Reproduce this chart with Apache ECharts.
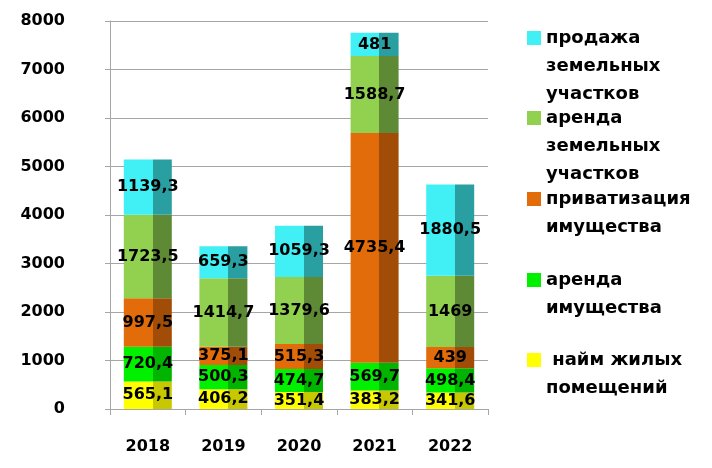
<!DOCTYPE html>
<html>
<head>
<meta charset="utf-8">
<script src="https://cdn.jsdelivr.net/npm/echarts@6/dist/echarts.min.js"></script>
<style>
  html, body { margin: 0; padding: 0; background: #fff; }
  #chart { width: 712px; height: 468px; }
</style>
</head>
<body>
<div id="chart"></div>
<script>
var years = ['2018', '2019', '2020', '2021', '2022']
var najm = [565.1, 406.2, 351.4, 383.2, 341.6]
var arendaIm = [720.4, 500.3, 474.7, 569.7, 498.4]
var privat = [997.5, 375.1, 515.3, 4735.4, 439]
var arendaZem = [1723.5, 1414.7, 1379.6, 1588.7, 1469]
var prodazha = [1139.3, 659.3, 1059.3, 481, 1880.5]
var yTicks = [0, 1000, 2000, 3000, 4000, 5000, 6000, 7000, 8000]

var names = ['найм жилых помещений', 'аренда имущества', 'приватизация имущества', 'аренда земельных участков', 'продажа земельных участков']
var legendText = {
  'продажа земельных участков': 'продажа\nземельных\nучастков',
  'аренда земельных участков': 'аренда\nземельных\nучастков',
  'приватизация имущества': 'приватизация\nимущества',
  'аренда имущества': 'аренда\nимущества',
  'найм жилых помещений': ' найм жилых\nпомещений'
}

var font = 'DejaVu Sans'
var faces = [
  ['#FFFF00', '#C8C800'],
  ['#00F000', '#00B400'],
  ['#E36C0A', '#A24D07'],
  ['#92D050', '#5F8A35'],
  ['#40F0F5', '#2A9FA2']
]

function face(c) {
  return {
    type: 'linear', x: 0, y: 0, x2: 1, y2: 0,
    colorStops: [
      { offset: 0, color: c[0] },
      { offset: 0.6, color: c[0] },
      { offset: 0.6, color: c[1] },
      { offset: 1, color: c[1] }
    ]
  }
}

var myChart = echarts.init(document.getElementById('chart'))

var seriesData = [najm, arendaIm, privat, arendaZem, prodazha]
var series = seriesData.map(function (d, i) {
  return {
    name: names[i],
    type: 'bar',
    stack: 'total',
    barWidth: 48,
    data: d,
    itemStyle: { color: face(faces[i]) },
    label: {
      show: true,
      position: 'inside',
      color: '#000',
      fontFamily: font,
      fontWeight: 'bold',
      fontSize: 16,
      formatter: function (p) { return String(p.value).replace('.', ',') }
    }
  }
})

// legend: one per item, blank lines above so the square sits by the first line
var iconCenters = [360, 280, 199, 118, 38]
var lh = 28
var legends = names.map(function (n, i) {
  var lines = legendText[n].split('\n').length
  var pre = new Array(lines).join('\n')
  return {
    data: [{ name: n, itemStyle: { color: faces[i][0] } }],
    icon: 'rect',
    left: 527,
    top: iconCenters[i] - (2 * lines - 1) * lh / 2,
    padding: 0,
    itemWidth: 14,
    itemHeight: 14,
    selectedMode: false,
    formatter: function (name) { return pre + legendText[name] },
    textStyle: {
      fontFamily: font,
      fontWeight: 'bold',
      fontSize: 18,
      lineHeight: lh,
      color: '#000'
    }
  }
})

var option = {
  animation: false,
  grid: { left: 110, right: 224, top: 21, bottom: 59 },
  legend: legends,
  xAxis: {
    type: 'category',
    data: years,
    axisLine: { lineStyle: { color: '#A6A6A6', width: 1 } },
    axisTick: { show: true, length: 6, lineStyle: { color: '#A6A6A6' } },
    axisLabel: {
      margin: 30,
      color: '#000',
      fontFamily: font,
      fontWeight: 'bold',
      fontSize: 16
    }
  },
  yAxis: {
    type: 'value',
    min: yTicks[0],
    max: yTicks[yTicks.length - 1],
    interval: 1000,
    axisLine: { show: true, lineStyle: { color: '#A6A6A6' } },
    axisTick: { show: true, length: 5, lineStyle: { color: '#A6A6A6' } },
    splitLine: { lineStyle: { color: '#A6A6A6' } },
    axisLabel: {
      margin: 45,
      color: '#000',
      fontFamily: font,
      fontWeight: 'bold',
      fontSize: 16,
      formatter: function (v) { return String(v) }
    }
  },
  series: series
}

myChart.setOption(option)
</script>
</body>
</html>
